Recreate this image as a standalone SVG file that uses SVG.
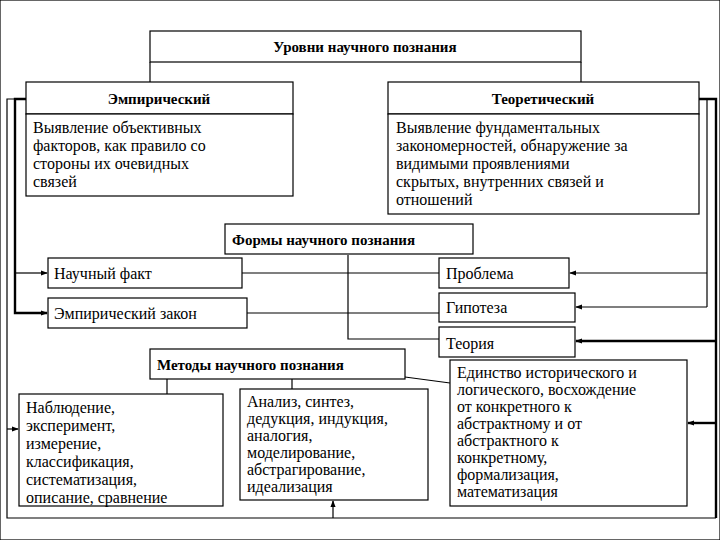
<svg xmlns="http://www.w3.org/2000/svg" width="720" height="540" viewBox="0 0 720 540" font-family="'Liberation Serif', 'Times New Roman', 'DejaVu Serif', serif">
<style>
rect{fill:#fff;stroke:#000;stroke-width:1.2}
text{font-family:'Liberation Serif','Times New Roman','DejaVu Serif',serif;font-size:16px;fill:#000}
.b{font-weight:bold;font-size:15px}
.c line,.c polyline{stroke:#000;stroke-width:1.2;fill:none}
.c .t{stroke-width:2.4}
</style>
<defs><marker id="a" viewBox="0 0 8 8" refX="7" refY="4" markerWidth="7" markerHeight="7" markerUnits="userSpaceOnUse" orient="auto"><path d="M0,1L8,4L0,7z" fill="#000"/></marker></defs>
<rect width="720" height="540" fill="#fff" stroke="none"/>
<g class="c">
<polyline points="150,62 150,82"/><polyline points="581,62 581,82"/>
<polyline class="t" points="26,99 15,99 15,313 47,313" marker-end="url(#a)"/>
<line x1="15" y1="273" x2="47" y2="273" marker-end="url(#a)"/>
<polyline points="15,99 7,99 7,518 716,518"/>
<line x1="7" y1="429" x2="18" y2="429" marker-end="url(#a)"/>
<line x1="333" y1="518" x2="333" y2="501" marker-end="url(#a)"/>
<polyline class="t" points="699,99 716,99 716,518"/>
<polyline points="707,99 707,307"/>
<line x1="707" y1="273" x2="570" y2="273" marker-end="url(#a)"/>
<line x1="707" y1="307" x2="576" y2="307" marker-end="url(#a)"/>
<line class="t" x1="716" y1="341" x2="576" y2="341" marker-end="url(#a)"/>
<line class="t" x1="716" y1="423" x2="688" y2="423" marker-end="url(#a)"/>
<line x1="242" y1="273" x2="439" y2="273"/>
<line x1="247" y1="313" x2="439" y2="313"/>
<polyline points="348,255 348,339 439,339"/>
<line x1="167" y1="379" x2="167" y2="394"/>
<line x1="292" y1="379" x2="292" y2="389"/>
<line x1="405" y1="377" x2="450" y2="383"/>
</g>
<g id="title"><rect x="150" y="31" width="431" height="31"/><text class="b" x="365" y="52" text-anchor="middle">Уровни научного познания</text></g>
<g id="emp"><rect x="26" y="82" width="267" height="32"/><text class="b" x="159" y="104" text-anchor="middle">Эмпирический</text>
<rect x="26" y="114" width="267" height="82"/><text x="33" y="133">Выявление объективных</text><text x="33" y="151">факторов, как правило со</text><text x="33" y="169">стороны их очевидных</text><text x="33" y="187">связей</text></g>
<g id="theor"><rect x="388" y="82" width="311" height="32"/><text class="b" x="543" y="104" text-anchor="middle">Теоретический</text>
<rect x="388" y="114" width="311" height="100"/><text x="396" y="133">Выявление фундаментальных</text><text x="396" y="151">закономерностей, обнаружение за</text><text x="396" y="169">видимыми проявлениями</text><text x="396" y="187">скрытых, внутренних связей и</text><text x="396" y="205">отношений</text></g>
<g id="forms"><rect x="225" y="224" width="248" height="30"/><text class="b" x="232" y="245">Формы научного познания</text></g>
<g id="fact"><rect x="48" y="258" width="194" height="30"/><text x="54" y="279">Научный факт</text></g>
<g id="law"><rect x="48" y="298" width="199" height="30"/><text x="54" y="319">Эмпирический закон</text></g>
<g id="problem"><rect x="439" y="258" width="130" height="30"/><text x="446" y="279">Проблема</text></g>
<g id="hyp"><rect x="439" y="293" width="136" height="29"/><text x="446" y="313">Гипотеза</text></g>
<g id="theory"><rect x="439" y="327" width="136" height="30"/><text x="446" y="349">Теория</text></g>
<g id="methods"><rect x="150" y="349" width="255" height="30"/><text class="b" x="157" y="370">Методы научного познания</text></g>
<g id="m1"><rect x="19" y="394" width="204" height="112"/><text x="26" y="413">Наблюдение,</text><text x="26" y="431">эксперимент,</text><text x="26" y="449">измерение,</text><text x="26" y="467">классификация,</text><text x="26" y="485">систематизация,</text><text x="26" y="503">описание, сравнение</text></g>
<g id="m2"><rect x="240" y="389" width="188" height="111"/><text x="247" y="407">Анализ, синтез,</text><text x="247" y="424">дедукция, индукция,</text><text x="247" y="441">аналогия,</text><text x="247" y="458">моделирование,</text><text x="247" y="475">абстрагирование,</text><text x="247" y="492">идеализация</text></g>
<g id="m3"><rect x="450" y="360" width="237" height="146"/><text x="457" y="378">Единство исторического и</text><text x="457" y="395">логического, восхождение</text><text x="457" y="412">от конкретного к</text><text x="457" y="429">абстрактному и от</text><text x="457" y="446">абстрактного к</text><text x="457" y="463">конкретному,</text><text x="457" y="480">формализация,</text><text x="457" y="497">математизация</text></g>
</svg>
